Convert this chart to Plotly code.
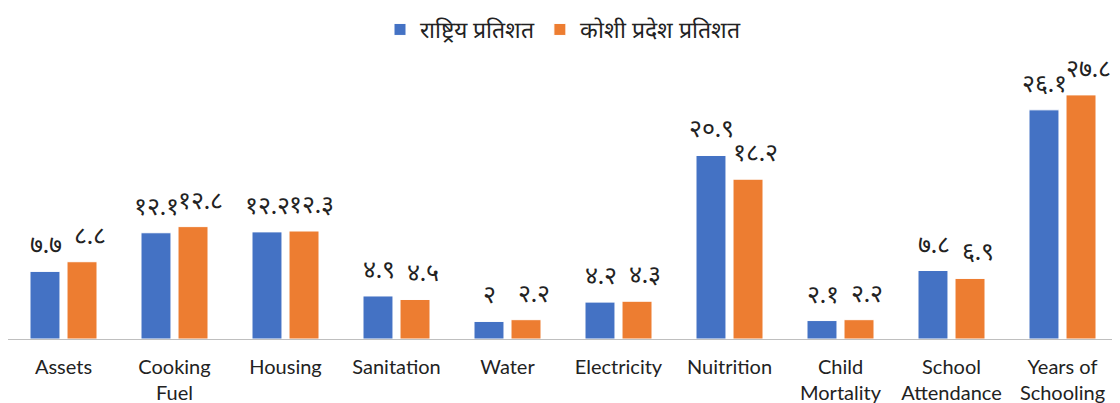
import plotly.graph_objects as go

categories = ["Assets", "Cooking<br>Fuel", "Housing", "Sanitation", "Water", "Electricity",
              "Nuitrition", "Child<br>Mortality", "School<br>Attendance", "Years of<br>Schooling"]
national = [7.7, 12.1, 12.2, 4.9, 2.0, 4.2, 20.9, 2.1, 7.8, 26.1]
koshi = [8.8, 12.8, 12.3, 4.5, 2.2, 4.3, 18.2, 2.2, 6.9, 27.8]
series_names = ["राष्ट्रिय प्रतिशत", "कोशी प्रदेश प्रतिशत"]

DEV = str.maketrans("0123456789", "०१२३४५६७८९")

def dev(v):
    s = f"{v:g}"
    return s.translate(DEV)

fig = go.Figure()
fig.add_trace(go.Bar(x=categories, y=national, name=series_names[0],
                     marker=dict(color="#4472C4", line=dict(color="white", width=1))))
fig.add_trace(go.Bar(x=categories, y=koshi, name=series_names[1],
                     marker=dict(color="#ED7D31", line=dict(color="white", width=1))))

annotations = []
for cat, v in zip(categories, national):
    annotations.append(dict(x=cat, y=v, text=dev(v), showarrow=False, xref="x", yref="y",
                            xshift=-18, yshift=28, yanchor="middle",
                            font=dict(size=25, color="#222")))
for cat, v in zip(categories, koshi):
    annotations.append(dict(x=cat, y=v, text=dev(v), showarrow=False, xref="x", yref="y",
                            xshift=26, yshift=28, yanchor="middle",
                            font=dict(size=25, color="#222")))

fig.update_layout(
    width=1120, height=403,
    margin=dict(l=0, r=10, t=40, b=72),
    paper_bgcolor="white", plot_bgcolor="white",
    barmode="group", bargap=0.333, bargroupgap=0.19,
    font=dict(family="Lato, sans-serif", size=20, color="#222"),
    legend=dict(orientation="h", x=0.5, xanchor="center", y=1.0, yanchor="bottom",
                font=dict(size=23), itemwidth=30),
    xaxis=dict(showline=True, linecolor="#BFBFBF", linewidth=1, ticks="",
               tickfont=dict(size=20), ticklabelstandoff=10),
    yaxis=dict(visible=False, range=[0, 32.8]),
    annotations=annotations,
)
fig.write_html("out.html")
